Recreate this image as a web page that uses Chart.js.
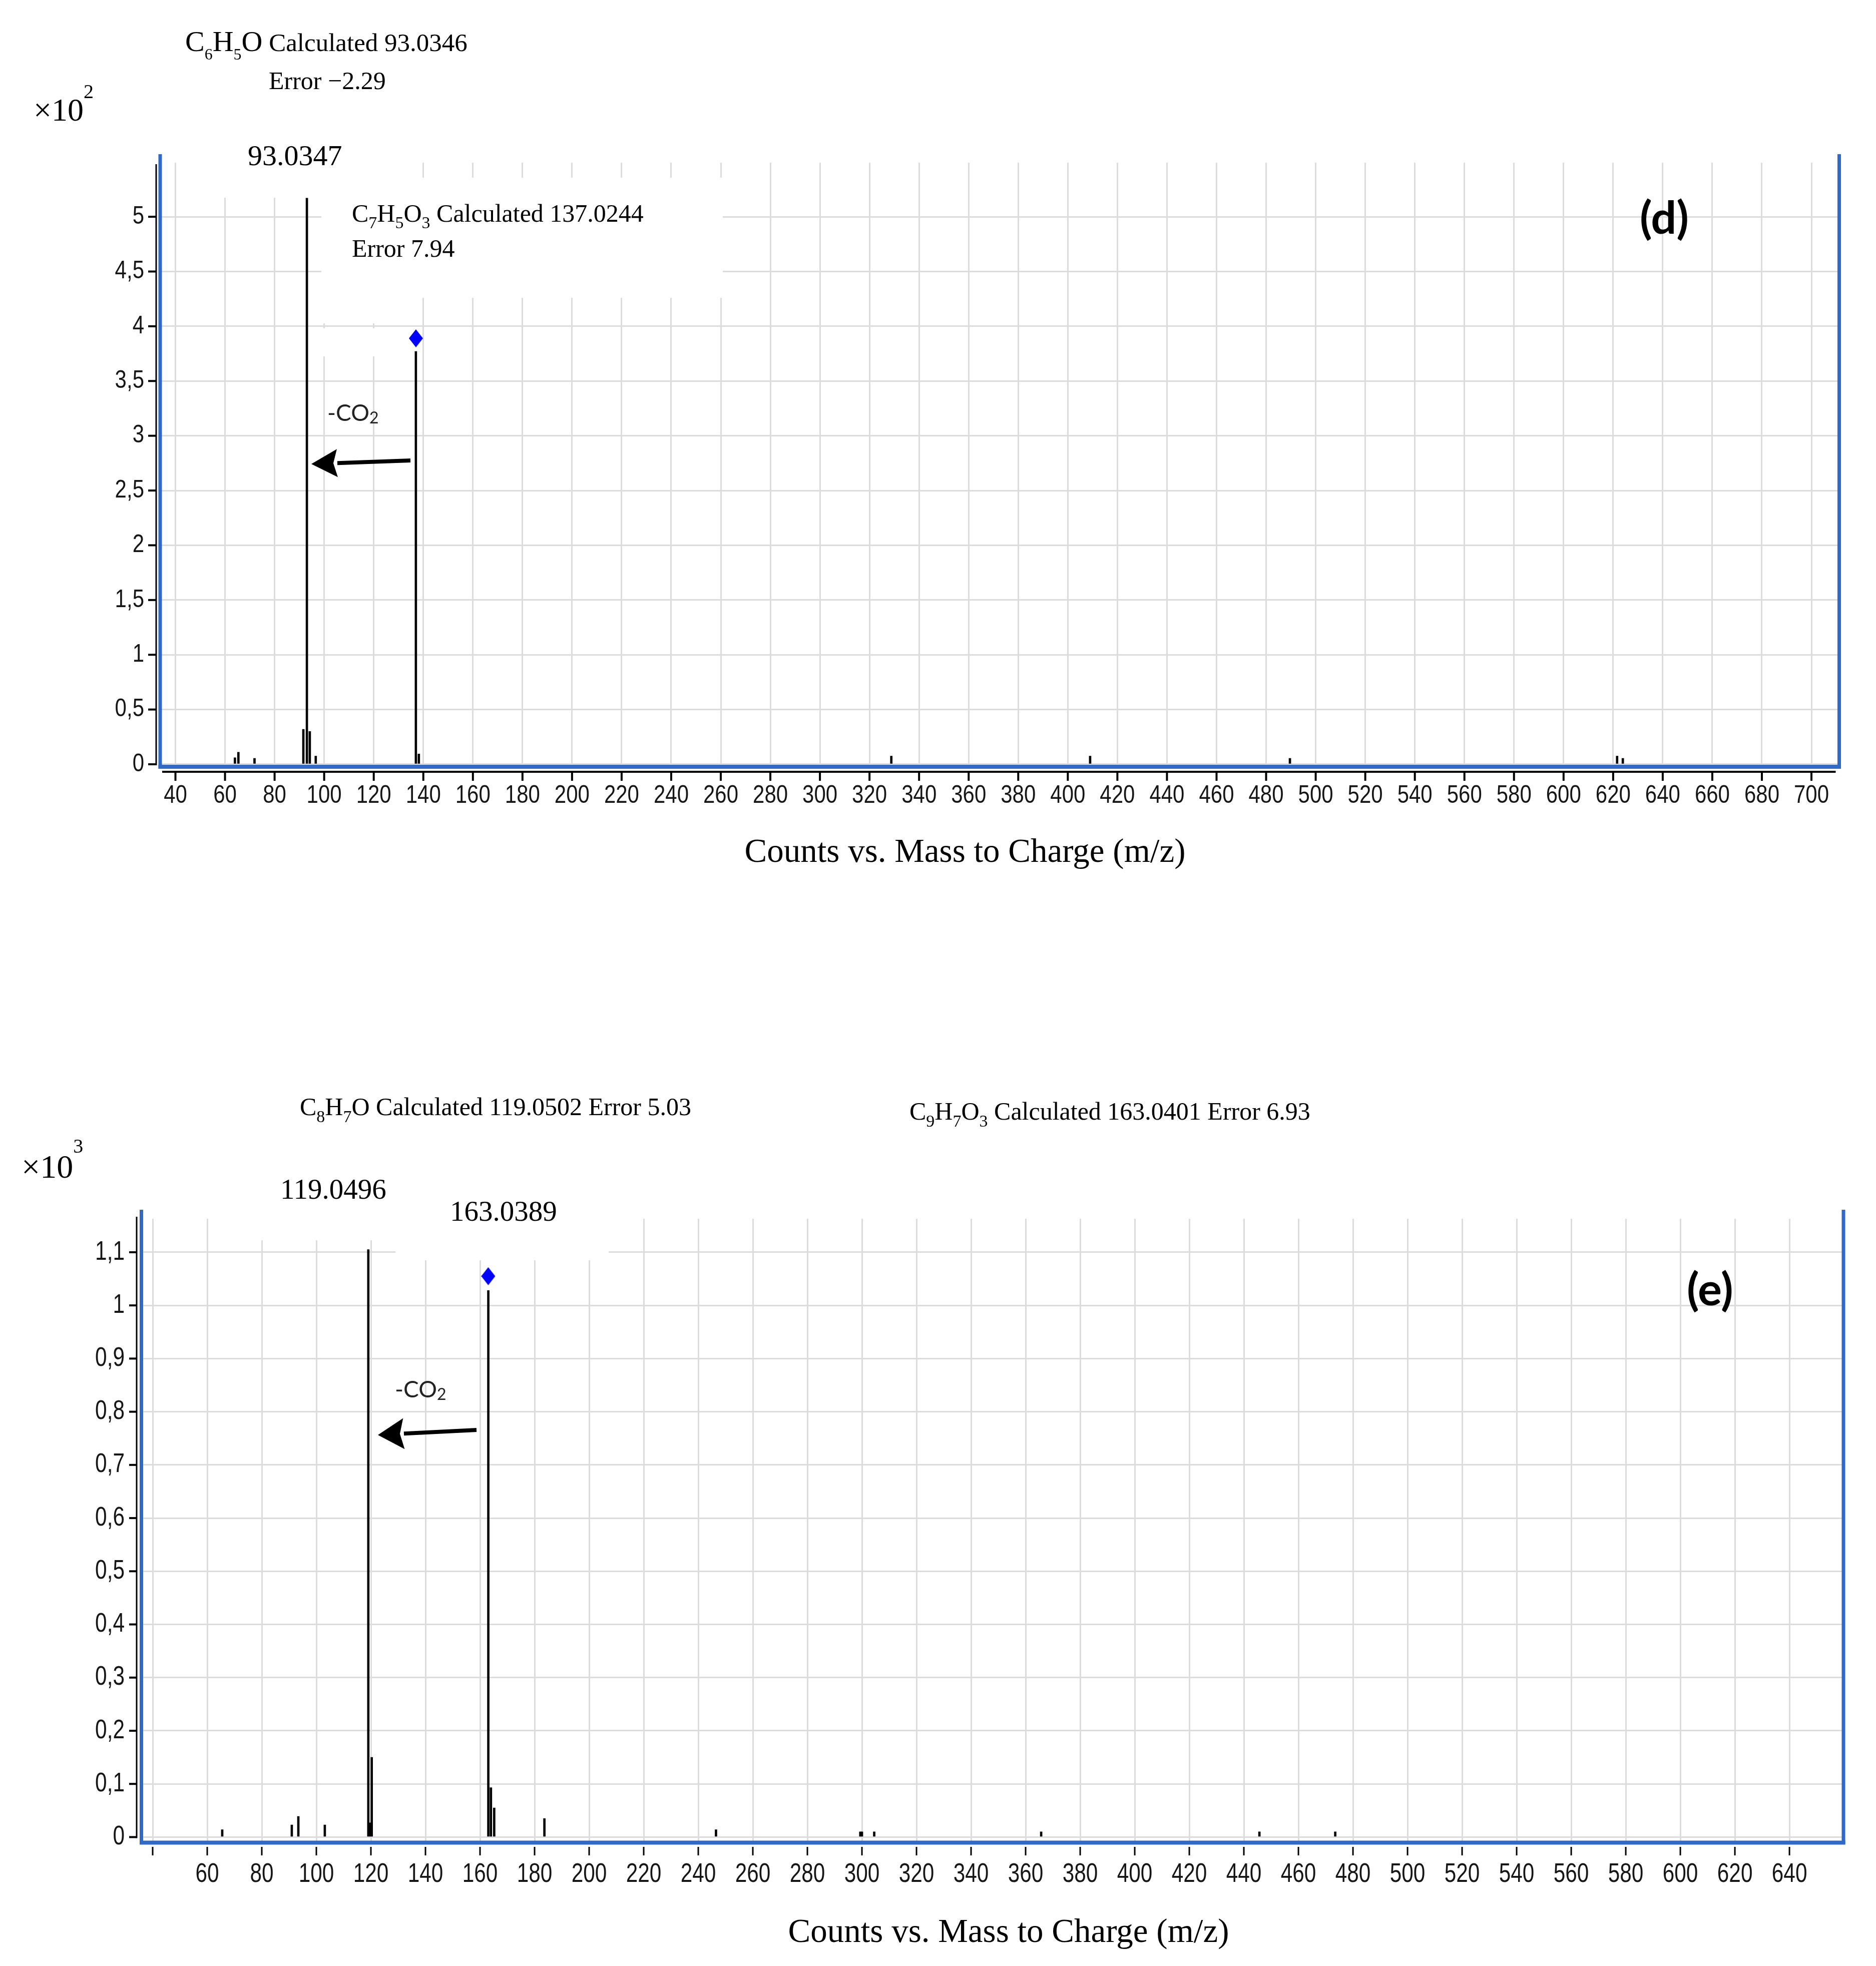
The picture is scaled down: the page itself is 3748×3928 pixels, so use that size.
<!DOCTYPE html>
<html>
<head>
<meta charset="utf-8">
<script src="https://cdn.jsdelivr.net/npm/chart.js@4.4.1/dist/chart.umd.min.js"></script>
<style>
html, body { margin: 0; padding: 0; background: #fff; overflow: hidden; }
#wrap { position: relative; width: 3748px; height: 3928px; }
.panel { position: absolute; left: 0; width: 3748px; height: 1964px; }
.panel canvas { display: block; }
#panelD { top: 0; }
#panelE { top: 1964px; }
</style>
</head>
<body>
<div id="wrap">
  <div class="panel" id="panelD"><canvas id="chartD"></canvas></div>
  <div class="panel" id="panelE"><canvas id="chartE"></canvas></div>
</div>
<script>
"use strict";

// panel (d): counts x10^2
let dMz = [64.0, 65.4, 71.9, 91.6, 93.03, 94.2, 96.6, 137.0, 138.2, 328.8, 409.0, 489.6, 621.6, 623.9];
let dCounts = [0.06, 0.11, 0.055, 0.32, 5.17, 0.30, 0.075, 3.77, 0.095, 0.075, 0.075, 0.055, 0.075, 0.055];
let dPrecMz = [137.0];
let dPrecCounts = [3.89];
let dXTicks = [40, 60, 80, 100, 120, 140, 160, 180, 200, 220, 240, 260, 280, 300, 320, 340, 360, 380,
    400, 420, 440, 460, 480, 500, 520, 540, 560, 580, 600, 620, 640, 660, 680, 700];
let dYTicks = [0, 0.5, 1, 1.5, 2, 2.5, 3, 3.5, 4, 4.5, 5];
let dYLabels = ['0', '0,5', '1', '1,5', '2', '2,5', '3', '3,5', '4', '4,5', '5'];

// panel (e): counts x10^3
let eMz = [65.5, 91.0, 93.4, 103.1, 119.05, 119.7, 120.3, 163.04, 164.0, 165.2, 183.6, 246.5,
    299.4, 300.0, 304.5, 365.7, 445.7, 473.5];
let eCounts = [0.014, 0.023, 0.039, 0.023, 1.105, 0.027, 0.150, 1.028, 0.093, 0.055, 0.035, 0.014,
    0.010, 0.010, 0.010, 0.010, 0.010, 0.010];
let ePrecMz = [163.0];
let ePrecCounts = [1.055];
let eXTicks = [40, 60, 80, 100, 120, 140, 160, 180, 200, 220, 240, 260, 280, 300, 320, 340, 360, 380,
    400, 420, 440, 460, 480, 500, 520, 540, 560, 580, 600, 620, 640];
let eYTicks = [0, 0.1, 0.2, 0.3, 0.4, 0.5, 0.6, 0.7, 0.8, 0.9, 1, 1.1];
let eYLabels = ['0', '0,1', '0,2', '0,3', '0,4', '0,5', '0,6', '0,7', '0,8', '0,9', '1', '1,1'];

const BLUE = '#3169c6';
const SERIF = '"Liberation Serif", "Times New Roman", serif';
const SANS = 'Lato, "Open Sans", sans-serif';
const PANEL_H = 1964;

// blue diamond used for the precursor ion marker
let diamond = document.createElement('canvas');
diamond.width = 28;
diamond.height = 36;
(function () {
    let c = diamond.getContext('2d');
    c.fillStyle = '#0000ff';
    c.beginPath();
    c.moveTo(14, 0);
    c.lineTo(28, 18);
    c.lineTo(14, 36);
    c.lineTo(0, 18);
    c.closePath();
    c.fill();
})();

function line(ctx, x1, y1, x2, y2, w, c) {
    ctx.beginPath();
    ctx.moveTo(x1, y1);
    ctx.lineTo(x2, y2);
    ctx.lineWidth = w;
    ctx.strokeStyle = c;
    ctx.stroke();
}

function tickText(ctx, s, x, y, align, size, sx) {
    ctx.save();
    ctx.font = size + 'px "Liberation Sans", Arial, sans-serif';
    ctx.fillStyle = '#161616';
    ctx.textBaseline = 'middle';
    ctx.textAlign = align;
    ctx.translate(x, y);
    ctx.scale(sx, 1);
    ctx.fillText(s, 0, 0);
    ctx.restore();
}

function rich(ctx, x, y, family, runs, color) {
    ctx.save();
    ctx.fillStyle = color || '#000';
    ctx.textBaseline = 'alphabetic';
    ctx.textAlign = 'left';
    for (let [t, size, dy] of runs) {
        ctx.font = size + 'px ' + family;
        ctx.fillText(t, x, y + dy);
        x += ctx.measureText(t).width;
    }
    ctx.restore();
}

function text(ctx, s, x, y, font, align) {
    ctx.save();
    ctx.font = font;
    ctx.fillStyle = '#000';
    ctx.textAlign = align || 'left';
    ctx.textBaseline = 'alphabetic';
    ctx.fillText(s, x, y);
    ctx.restore();
}

function arrow(ctx, x1, y1, x2, y2, len, half, w) {
    let a = Math.atan2(y2 - y1, x2 - x1);
    let bx = x2 - Math.cos(a) * len;
    let by = y2 - Math.sin(a) * len;
    line(ctx, x1, y1, bx, by, w, '#000');
    ctx.beginPath();
    ctx.moveTo(x2, y2);
    ctx.lineTo(bx + Math.sin(a) * half, by - Math.cos(a) * half);
    ctx.lineTo(bx + Math.cos(a) * 8, by + Math.sin(a) * 8);
    ctx.lineTo(bx - Math.sin(a) * half, by + Math.cos(a) * half);
    ctx.closePath();
    ctx.fillStyle = '#000';
    ctx.fill();
}

function spectrum(canvasId, p) {
    let decor = {
        id: 'decor',
        beforeDatasetsDraw(chart) {
            let ctx = chart.ctx;
            ctx.save();
            ctx.fillStyle = '#fff';
            for (let b of p.boxes) ctx.fillRect(b[0], b[1], b[2] - b[0], b[3] - b[1]);
            ctx.restore();
        },
        afterDraw(chart) {
            let ctx = chart.ctx;
            let a = chart.chartArea;
            let xs = chart.scales.x;
            let ys = chart.scales.y;
            let f = p.frame;
            let y0 = ys.getPixelForValue(0);
            ctx.save();
            // blue frame, open at the top
            line(ctx, a.left, a.top - f.blueUp, a.left, a.bottom + f.blueW / 2, f.blueW, BLUE);
            line(ctx, a.right, a.top - f.blueUp, a.right, a.bottom + f.blueW / 2, f.blueW, BLUE);
            line(ctx, a.left - f.blueW / 2, a.bottom, a.right + f.blueW / 2, a.bottom, f.blueW + 1, BLUE);
            // black y axis with ticks and labels
            line(ctx, f.yLineX, f.yLineTop, f.yLineX, y0 + 2, f.yLineW, '#000');
            p.yTicks.forEach((v, i) => {
                let y = ys.getPixelForValue(v);
                line(ctx, f.yLineX - f.yTickLen, y, f.yLineX, y, f.yTickW, '#000');
                tickText(ctx, p.yLabels[i], f.yLabelX, y, 'right', f.font, f.sx);
            });
            // x axis
            if (f.xLineW) line(ctx, a.left + 4, f.xTickTop - 2, a.right - 7, f.xTickTop - 2, f.xLineW, '#000');
            p.xTicks.forEach(v => {
                let x = xs.getPixelForValue(v);
                line(ctx, x, f.xTickTop, x, f.xTickTop + f.xTickLen, f.xTickW, '#000');
                tickText(ctx, p.xLabel(v), x, f.xLabelY, 'center', f.font, f.sx);
            });
            p.notes(ctx);
            ctx.restore();
        }
    };

    let area = p.area;
    let pad = { left: area.left, right: 3748 - area.right, top: area.top, bottom: PANEL_H - area.bottom };

    let chart = new Chart(document.getElementById(canvasId).getContext('2d'), {
        type: 'bar',
        data: {
            datasets: [{
                type: 'bar',
                data: p.mz.map((m, i) => ({ x: m, y: p.counts[i] })),
                backgroundColor: '#000',
                barThickness: 4,
                grouped: false,
                order: 2
            }, {
                type: 'scatter',
                data: p.precMz.map((m, i) => ({ x: m, y: p.precCounts[i] })),
                pointStyle: diamond,
                pointRadius: 18,
                order: 1
            }]
        },
        options: {
            responsive: true,
            maintainAspectRatio: false,
            animation: false,
            devicePixelRatio: 1,
            layout: { padding: pad, autoPadding: false },
            plugins: { legend: { display: false }, tooltip: { enabled: false } },
            scales: {
                x: {
                    type: 'linear', min: p.xMin, max: p.xMax, offset: false,
                    afterBuildTicks: s => { s.ticks = p.xTicks.map(v => ({ value: v })); },
                    afterFit: s => { s.height = 0; s.paddingLeft = 0; s.paddingRight = 0; },
                    ticks: { display: false },
                    border: { display: false },
                    grid: { color: '#dcdcdc', lineWidth: 3, drawTicks: false, offset: false }
                },
                y: {
                    type: 'linear', min: p.yMin, max: p.yMax,
                    afterBuildTicks: s => { s.ticks = p.yTicks.map(v => ({ value: v })); },
                    afterFit: s => { s.width = 0; s.paddingTop = 0; s.paddingBottom = 0; },
                    ticks: { display: false },
                    border: { display: false },
                    grid: { color: '#dcdcdc', lineWidth: 3, drawTicks: false }
                }
            }
        },
        plugins: [decor]
    });

    // nudge the padding so the plot area lands where the frame is wanted
    let a = chart.chartArea;
    chart.options.layout.padding = {
        left: pad.left + (area.left - a.left),
        right: pad.right + (a.right - area.right),
        top: pad.top + (area.top - a.top),
        bottom: pad.bottom + (a.bottom - area.bottom)
    };
    chart.update();
    return chart;
}

spectrum('chartD', {
    mz: dMz, counts: dCounts, precMz: dPrecMz, precCounts: dPrecCounts,
    xTicks: dXTicks, yTicks: dYTicks, yLabels: dYLabels,
    xLabel: v => String(v),
    xMin: 33.84, xMax: 711.2, yMin: -0.0229, yMax: 5.494,
    area: { left: 320, right: 3674.5, top: 325, bottom: 1532 },
    boxes: [[362, 318, 800, 395], [642, 355, 1444, 595], [632, 595, 802, 646], [632, 656, 802, 712]],
    frame: { blueW: 7, blueUp: 17, yLineX: 312, yLineTop: 328, yLineW: 3, yTickLen: 16, yTickW: 4, yLabelX: 288,
        xLineW: 4, xTickTop: 1544, xTickLen: 16, xTickW: 4, xLabelY: 1590, font: 50, sx: 0.84 },
    notes: ctx => {
        rich(ctx, 370, 102, SERIF, [['C', 58, 0], ['6', 32, 17], ['H', 58, 0], ['5', 32, 17], ['O', 58, 0], [' Calculated 93.0346', 51, 0]]);
        text(ctx, 'Error \u22122.29', 537, 178, '50px ' + SERIF);
        rich(ctx, 67, 241, SERIF, [['\u00d710', 64, 0], ['2', 40, -45]]);
        text(ctx, '93.0347', 495, 330, '58px ' + SERIF);
        rich(ctx, 703, 443, SERIF, [['C', 50, 0], ['7', 34, 13], ['H', 50, 0], ['5', 34, 13], ['O', 50, 0], ['3', 34, 13], [' Calculated 137.0244', 50, 0]]);
        text(ctx, 'Error 7.94', 703, 513, '50px ' + SERIF);
        rich(ctx, 654, 841, SANS, [['-CO', 46, 0], ['2', 32, 5]], '#222');
        arrow(ctx, 820, 920, 622, 927, 52, 28, 8);
        text(ctx, '(d)', 3276, 467, 'bold 90px ' + SANS);
        text(ctx, 'Counts vs. Mass to Charge (m/z)', 1928, 1722, '67px ' + SERIF, 'center');
    }
});

spectrum('chartE', {
    mz: eMz, counts: eCounts, precMz: ePrecMz, precCounts: ePrecCounts,
    xTicks: eXTicks, yTicks: eYTicks, yLabels: eYLabels,
    xLabel: v => (v === 40 ? '' : String(v)),
    xMin: 35.87, xMax: 659.8, yMin: -0.0104, yMax: 1.163,
    area: { left: 282.5, right: 3683, top: 471, bottom: 1717.5 },
    boxes: [[460, 466, 790, 514], [790, 466, 1216, 554]],
    frame: { blueW: 7, blueUp: 18, yLineX: 273, yLineTop: 467, yLineW: 3, yTickLen: 15, yTickW: 4, yLabelX: 249,
        xLineW: 0, xTickTop: 1726, xTickLen: 17, xTickW: 3, xLabelY: 1781, font: 53, sx: 0.8 },
    notes: ctx => {
        rich(ctx, 599, 264, SERIF, [['C', 50, 0], ['8', 34, 14], ['H', 50, 0], ['7', 34, 14], ['O', 50, 0], [' Calculated 119.0502 Error 5.03', 50, 0]]);
        rich(ctx, 1817, 273, SERIF, [['C', 50, 0], ['9', 34, 14], ['H', 50, 0], ['7', 34, 14], ['O', 50, 0], ['3', 34, 14], [' Calculated 163.0401 Error 6.93', 50, 0]]);
        rich(ctx, 43, 389, SERIF, [['\u00d710', 66, 0], ['3', 40, -50]]);
        text(ctx, '119.0496', 560, 431, '57px ' + SERIF);
        text(ctx, '163.0389', 899, 475, '57px ' + SERIF);
        rich(ctx, 789, 828, SANS, [['-CO', 46, 0], ['2', 32, 5]], '#222');
        arrow(ctx, 952, 893, 755, 903, 52, 31, 8);
        text(ctx, '(e)', 3370, 644, 'bold 90px ' + SANS);
        text(ctx, 'Counts vs. Mass to Charge (m/z)', 2015, 1916, '67px ' + SERIF, 'center');
    }
});
</script>
</body>
</html>
